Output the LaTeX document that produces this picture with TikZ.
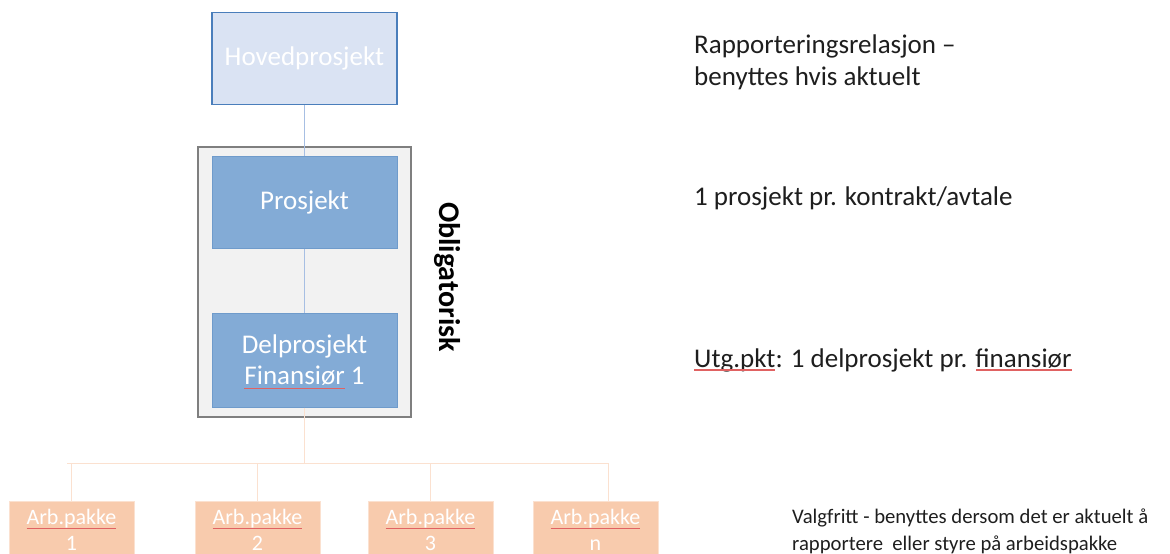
\documentclass[tikz,border=0pt]{standalone}
\usepackage{fontspec}
\setmainfont{Carlito}
\usetikzlibrary{positioning, calc}
\definecolor{hovedfill}{HTML}{DAE3F3}
\definecolor{hovedline}{HTML}{4A7EBB}
\definecolor{prosjfill}{HTML}{83ABD6}
\definecolor{prosjline}{HTML}{6F9BCB}
\definecolor{obligfill}{HTML}{F2F2F2}
\definecolor{obligline}{HTML}{7F7F7F}
\definecolor{arbfill}{HTML}{F8CBAD}
\definecolor{arbline}{HTML}{FBE1D0}
\definecolor{blueline}{HTML}{A7BFE3}
\definecolor{spellred}{HTML}{E06262}
\definecolor{textgray}{HTML}{1E1E1E}
\newlength{\wFin}
\newlength{\wFinLinje}
\newlength{\wArb}
\newlength{\wUtg}
\newlength{\wfin}
\tikzset{
  boks/.style={draw=prosjline, fill=prosjfill, line width=1pt, minimum width=185pt,
    minimum height=92pt, text=white, align=center, inner sep=0pt,
    font=\fontsize{27}{31}\selectfont},
  hovedboks/.style={boks, draw=hovedline, fill=hovedfill, line width=1.5pt},
  arbboks/.style={draw=arbline, fill=arbfill, line width=0.8pt, minimum width=125pt,
    minimum height=58pt, text=white, align=center, inner sep=0pt,
    font=\fontsize{22}{26}\selectfont},
  forklaring/.style={anchor=base west, align=left, inner sep=0pt, text=textgray,
    font=\fontsize{27}{32}\selectfont},
  blaalinje/.style={draw=blueline, line width=0.8pt},
  oransjelinje/.style={draw=arbline, line width=1pt},
  stavefeil/.style={draw=spellred, line width=1.4pt}
}
\begin{document}
\settowidth{\wFin}{\fontsize{27}{31}\selectfont Finansiør}%
\settowidth{\wFinLinje}{\fontsize{27}{31}\selectfont Finansiør 1}%
\settowidth{\wArb}{\fontsize{22}{26}\selectfont Arb.pakke}%
\settowidth{\wUtg}{\fontsize{27}{32}\selectfont Utg.pkt}%
\settowidth{\wfin}{\fontsize{27}{32}\selectfont finansiør}%
\begin{tikzpicture}[x=1pt, y=-1pt]
  \useasboundingbox (0,0) rectangle (1170,554);
  \clip (0,0) rectangle (1170,554);
  % obligatorisk ramme
  \draw[fill=obligfill, draw=obligline, line width=2pt] (198,147) rectangle (411,417);
  \node[rotate=-90, font=\bfseries\fontsize{30}{34}\selectfont] (oblig) at (447,277) {Obligatorisk};

  % prosjektnivaaer
  \node[hovedboks] (hoved) at (304.5,58.5) {Hovedprosjekt};
  \node[boks] (prosj) at (304.5,202) {Prosjekt};
  \node[boks, minimum height=94pt] (delp) at (304.5,360) {Delprosjekt\\Finansiør 1};
  \draw[blaalinje] (hoved.south) -- (prosj.north);
  \draw[blaalinje] (prosj.south) -- (delp.north);

  % arbeidspakker
  \foreach \x/\n [count=\i] in {71.5/1, 257.5/2, 430.5/3, 595.5/n}
    \node[arbboks] (arb\i) at (\x,530) {Arb.pakke\\\n};
  \coordinate (bar) at (304.5,463);
  \coordinate (barV) at (67,463);
  \coordinate (barH) at (608,463);
  \draw[oransjelinje] (delp.south) -- (bar);
  \draw[oransjelinje] (barV) -- (barH);
  \foreach \i in {1,2,3}
    \draw[oransjelinje] (arb\i.north |- bar) -- (arb\i.north);
  \draw[oransjelinje] (barH) -- (barH |- arb4.north);

  % forklaringer
  \node[forklaring] (f1) at (694,85) {Rapporteringsrelasjon –\\benyttes hvis aktuelt};
  \node[forklaring] (f2) at (694,205) {1 prosjekt pr. kontrakt/avtale};
  \node[forklaring] (f3) at (694,367) {Utg.pkt: 1 delprosjekt pr. finansiør};
  \node[forklaring, font=\fontsize{20.7}{27}\selectfont] (f4) at (792,550)
    {Valgfritt - benyttes dersom det er aktuelt å\\rapportere\ \ eller styre på arbeidspakke};

  % stavekontroll
  \draw[stavefeil] ($(delp.base)+(-0.5\wFinLinje,-4pt)$) -- ++(\wFin,0pt);
  \foreach \i in {1,...,4}
    \draw[stavefeil] ($(arb\i.base)+(-0.5\wArb,22pt)$) -- ++(\wArb,0pt);
  \draw[stavefeil] ($(f3.base west)+(0pt,-3pt)$) -- ++(\wUtg,0pt);
  \draw[stavefeil] ($(f3.base east)+(0pt,-3pt)$) -- ++(-\wfin,0pt);
\end{tikzpicture}
\end{document}
